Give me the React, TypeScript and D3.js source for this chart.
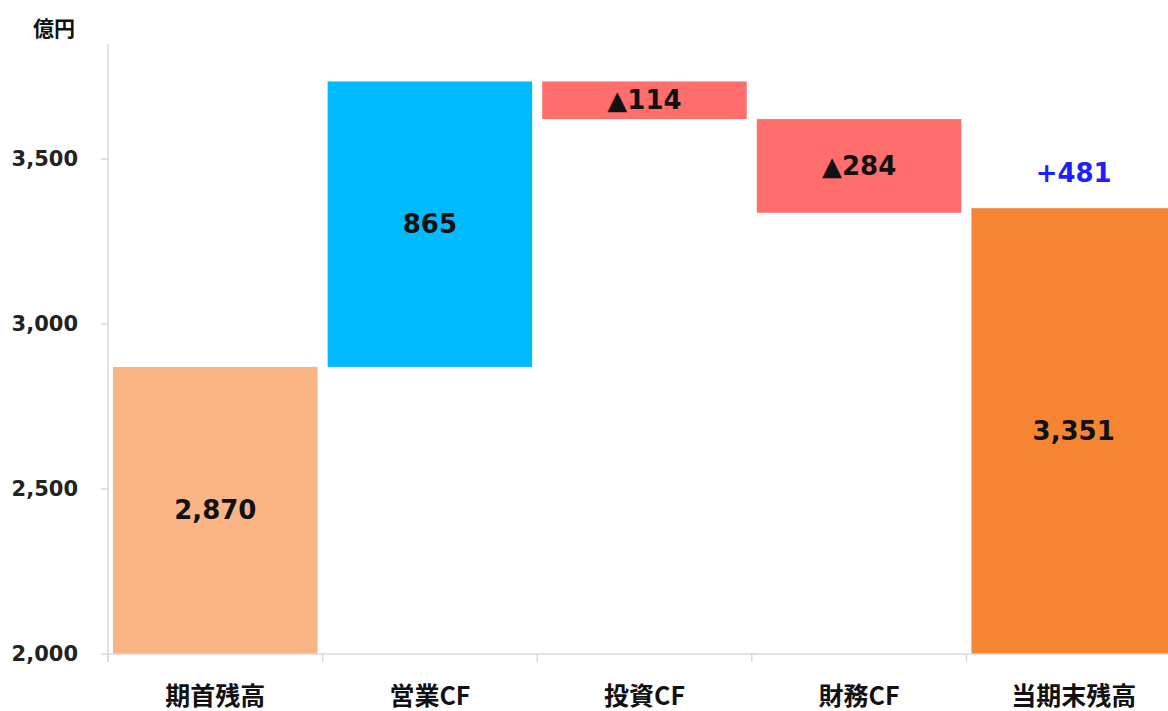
import React from "react";
import * as d3 from "d3";

const categories = ["期首残高", "営業CF", "投資CF", "財務CF", "当期末残高"];
const changes = [2870, 865, -114, -284, 3351];
const kinds = ["total", "delta", "delta", "delta", "total"];
const valueLabels = ["2,870", "865", "▲114", "▲284", "3,351"];
const colors = ["#FBB585", "#00BAFF", "#FF6D6D", "#FF6D6D", "#F58433"];
const yTicks = [2000, 2500, 3000, 3500];
const totalChangeLabel = "+481";

const W = 1168;
const H = 711;
const left = 108;
const bandW = 214.6;
const right = left + bandW * categories.length;
const y0px = 654;
const pxPerUnit = 0.33;
const topPx = 44;

export default function App() {
  const x = d3.scaleBand<string>().domain(categories).range([left, right]).paddingInner(0.047).paddingOuter(0.0235);
  const yMax = 2000 + (y0px - topPx) / pxPerUnit;
  const y = d3.scaleLinear().domain([2000, yMax]).range([y0px, topPx]);

  let running = 0;
  const bars = categories.map((c, i) => {
    let lo: number, hi: number;
    if (kinds[i] === "total") {
      lo = 2000;
      hi = changes[i];
      running = changes[i];
    } else {
      const next = running + changes[i];
      lo = Math.min(running, next);
      hi = Math.max(running, next);
      running = next;
    }
    return { c, lo, hi, i };
  });

  const numFont = "'DejaVu Sans', Verdana, sans-serif";
  const jpFont = "'Noto Sans CJK JP', sans-serif";
  const boundaries = d3.range(categories.length + 1).map((k) => left + bandW * k);

  return (
    <svg width={W} height={H} style={{ position: "absolute", left: 0, top: 0, background: "#fff" }}>
      {bars.map((b) => (
        <rect
          key={b.c}
          x={x(b.c)}
          width={x.bandwidth()}
          y={y(b.hi)}
          height={y(b.lo) - y(b.hi)}
          fill={colors[b.i]}
        />
      ))}
      <line x1={left} x2={left} y1={topPx} y2={y0px + 8} stroke="#D9D9D9" strokeWidth={1.5} />
      <line x1={left} x2={W} y1={y0px} y2={y0px} stroke="#D9D9D9" strokeWidth={1.5} />
      {yTicks.map((t) => (
        <g key={t}>
          <line x1={left - 7} x2={left} y1={y(t)} y2={y(t)} stroke="#D9D9D9" strokeWidth={1.5} />
          <text
            x={78}
            y={y(t)}
            textAnchor="end"
            dominantBaseline="central"
            fontFamily={numFont}
            fontWeight="bold"
            fontSize={21}
            fill="#222"
          >
            {d3.format(",")(t)}
          </text>
        </g>
      ))}
      {boundaries.map((bx, k) => (
        <line key={k} x1={bx} x2={bx} y1={y0px} y2={y0px + 8} stroke="#D9D9D9" strokeWidth={1.5} />
      ))}
      {categories.map((c) => (
        <text
          key={c}
          x={(x(c) as number) + x.bandwidth() / 2}
          y={694}
          textAnchor="middle"
          dominantBaseline="central"
          fontFamily={jpFont}
          fontWeight="bold"
          fontSize={25}
          fill="#111"
        >
          {c}
        </text>
      ))}
      <text x={54} y={27} textAnchor="middle" dominantBaseline="central" fontFamily={jpFont} fontWeight="bold" fontSize={21} fill="#111">
        億円
      </text>
      {bars.map((b) => (
        <text
          key={"l" + b.c}
          x={(x(b.c) as number) + x.bandwidth() / 2}
          y={(y(b.lo) + y(b.hi)) / 2}
          textAnchor="middle"
          dominantBaseline="central"
          fontFamily={numFont}
          fontWeight="bold"
          fontSize={26}
          fill="#111"
        >
          {valueLabels[b.i]}
        </text>
      ))}
      <text
        x={(x(categories[4]) as number) + x.bandwidth() / 2}
        y={y(changes[4]) - 35}
        textAnchor="middle"
        dominantBaseline="central"
        fontFamily={numFont}
        fontWeight="bold"
        fontSize={26}
        fill="#1E1EFF"
      >
        {totalChangeLabel}
      </text>
    </svg>
  );
}
